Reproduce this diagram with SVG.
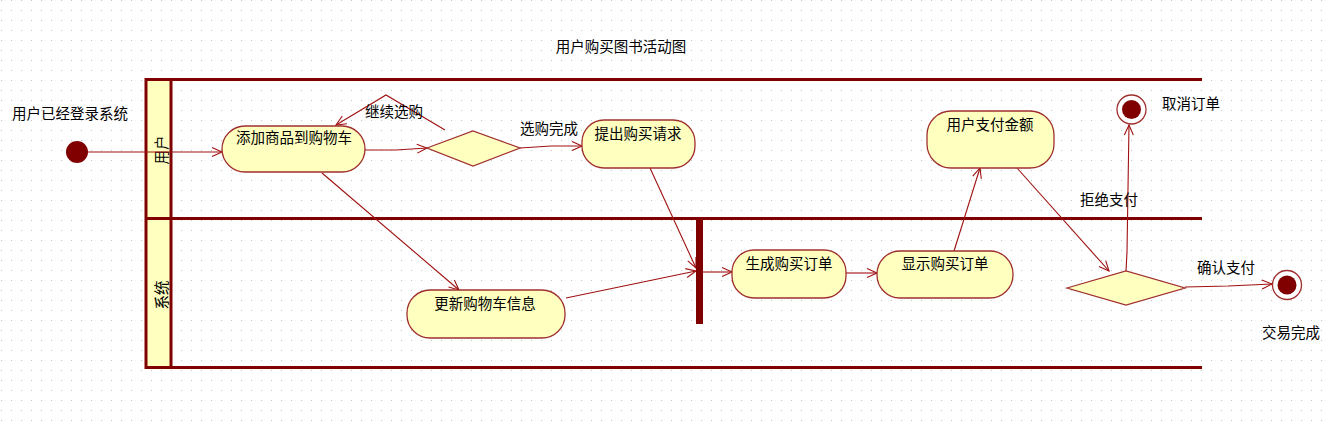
<svg xmlns="http://www.w3.org/2000/svg" width="1329" height="425" viewBox="0 0 1329 425">
<style>
text{font-family:"Noto Sans CJK SC","Liberation Sans",sans-serif;font-size:14.5px;fill:#000}
.lane{stroke:#800000;stroke-width:3;fill:none}
.act{fill:#ffffc0;stroke:#a03030;stroke-width:1.3}
.con{stroke:#a01010;stroke-width:1.1;fill:none}
.mid{text-anchor:middle}
</style>
<defs>
<pattern id="grid" x="1" y="0" width="10" height="10" patternUnits="userSpaceOnUse">
<rect x="0" y="0" width="1" height="1" fill="#c4c4c4"/>
</pattern>
<marker id="arr" markerWidth="14" markerHeight="12" refX="11" refY="6" orient="auto" markerUnits="userSpaceOnUse">
<path d="M1,1.5 L11,6 L1,10.5" fill="none" stroke="#a01010" stroke-width="1.1"/>
</marker>
</defs>
<rect width="1329" height="425" fill="#fff"/>
<rect width="1329" height="425" fill="url(#grid)"/>
<text class="mid" x="621" y="52">用户购买图书活动图</text>

<g id="swimlanes">
<rect x="146" y="79" width="25" height="288" fill="#ffffc0"/>
<line class="lane" x1="145" y1="79.5" x2="1202" y2="79.5"/>
<line class="lane" x1="145" y1="218.5" x2="1202" y2="218.5"/>
<line class="lane" x1="145" y1="367.5" x2="1202" y2="367.5"/>
<line class="lane" x1="146" y1="78" x2="146" y2="369"/>
<line class="lane" x1="171" y1="78" x2="171" y2="369"/>
<text class="mid" transform="translate(167,150) rotate(-90)">用户</text>
<text class="mid" transform="translate(167,295) rotate(-90)">系统</text>
</g>

<g id="connectors">
<line class="con" x1="88" y1="152" x2="222" y2="152" marker-end="url(#arr)"/>
<polyline class="con" points="365,150 396,150 427,148" marker-end="url(#arr)"/>
<polyline class="con" points="445,130 386,95 336,125" marker-end="url(#arr)"/>
<polyline class="con" points="520,148 551,146 582,146" marker-end="url(#arr)"/>
<line class="con" x1="322" y1="173" x2="459" y2="290" marker-end="url(#arr)"/>
<line class="con" x1="650" y1="168" x2="696" y2="268" marker-end="url(#arr)"/>
<line class="con" x1="566" y1="298" x2="696" y2="271" marker-end="url(#arr)"/>
<line class="con" x1="703" y1="272" x2="732" y2="272" marker-end="url(#arr)"/>
<line class="con" x1="846" y1="273" x2="877" y2="273" marker-end="url(#arr)"/>
<line class="con" x1="954" y1="251" x2="980" y2="168" marker-end="url(#arr)"/>
<line class="con" x1="1017" y1="168" x2="1109" y2="271" marker-end="url(#arr)"/>
<polyline class="con" points="1126,271 1127,252 1129,125" marker-end="url(#arr)"/>
<polyline class="con" points="1185,287 1228,286 1272,284" marker-end="url(#arr)"/>
<text x="365" y="117">继续选购</text>
<text x="520" y="134">选购完成</text>
<text x="1080" y="205">拒绝支付</text>
<text x="1197" y="273">确认支付</text>
</g>

<g id="start">
<circle cx="77" cy="152" r="11" fill="#800000"/>
<text x="12" y="119">用户已经登录系统</text>
</g>

<g id="addCart">
<rect class="act" x="222" y="126" width="143" height="46" rx="23" ry="23"/>
<text class="mid" x="294" y="143">添加商品到购物车</text>
</g>

<g id="decision1">
<polygon class="act" points="427,148 473,131 520,148 473,166"/>
</g>

<g id="request">
<rect class="act" x="582" y="120" width="113" height="48" rx="22" ry="22"/>
<text class="mid" x="638" y="139">提出购买请求</text>
</g>

<g id="updateCart">
<rect class="act" x="407" y="290" width="158" height="48" rx="23" ry="23"/>
<text class="mid" x="485" y="309">更新购物车信息</text>
</g>

<g id="fork">
<rect x="696" y="220" width="7" height="104" fill="#800000"/>
</g>

<g id="genOrder">
<rect class="act" x="732" y="250" width="114" height="48" rx="22" ry="22"/>
<text class="mid" x="789" y="269">生成购买订单</text>
</g>

<g id="showOrder">
<rect class="act" x="877" y="251" width="136" height="47" rx="23" ry="23"/>
<text class="mid" x="945" y="269">显示购买订单</text>
</g>

<g id="pay">
<rect class="act" x="927" y="111" width="127" height="57" rx="24" ry="24"/>
<text class="mid" x="990" y="130">用户支付金额</text>
</g>

<g id="decision2">
<polygon class="act" points="1067,288 1126,271 1185,288 1126,305"/>
</g>

<g id="cancelEnd">
<circle cx="1131.5" cy="109.5" r="14.5" fill="#fff" stroke="#a03030" stroke-width="1.3"/>
<circle cx="1131.5" cy="109.5" r="9.5" fill="#800000"/>
<text x="1162" y="109">取消订单</text>
</g>

<g id="doneEnd">
<circle cx="1287" cy="285" r="14.5" fill="#fff" stroke="#a03030" stroke-width="1.3"/>
<circle cx="1287" cy="285" r="9.5" fill="#800000"/>
<text x="1262" y="338">交易完成</text>
</g>
</svg>
